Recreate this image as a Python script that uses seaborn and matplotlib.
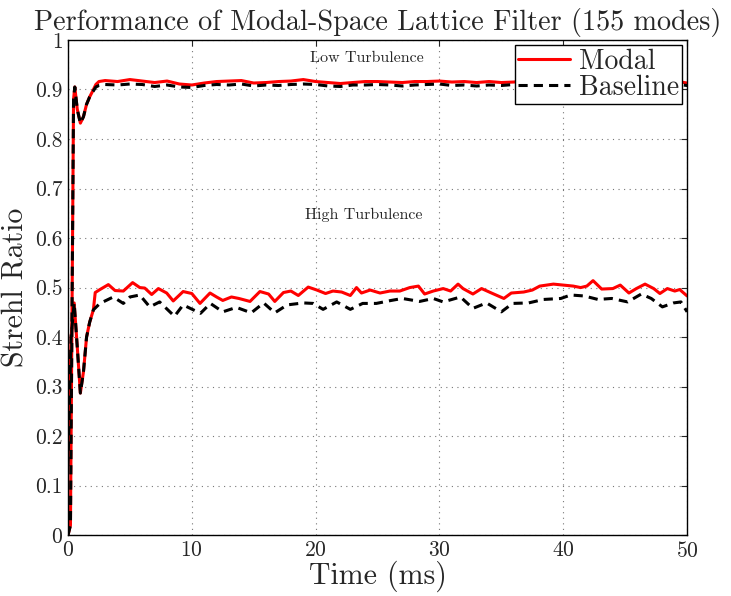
import numpy as np
import pandas as pd
import seaborn as sns
import matplotlib
matplotlib.use('Agg')
import matplotlib.pyplot as plt

# Data ------------------------------------------------------------------------
# low turbulence: transient then 1 ms steps
low_time = [0.0, 0.2, 0.45, 0.55, 0.75, 1.0, 1.25, 1.5, 1.75, 2.0, 2.25, 2.5] + list(range(3, 51))
low_modal = [0.0, 0.02, 0.88, 0.905, 0.86, 0.832, 0.845, 0.87, 0.885, 0.897, 0.91, 0.916,
             0.918, 0.916, 0.920, 0.917, 0.914, 0.917, 0.911, 0.909, 0.913, 0.916,
             0.917, 0.918, 0.913, 0.914, 0.916, 0.917, 0.920, 0.916, 0.914, 0.912,
             0.914, 0.916, 0.916, 0.915, 0.914, 0.916, 0.916, 0.917, 0.915, 0.916,
             0.914, 0.916, 0.914, 0.915, 0.917, 0.915, 0.914, 0.916, 0.915, 0.917,
             0.914, 0.916, 0.915, 0.917, 0.915, 0.916, 0.917, 0.913]
low_base = [0.0, 0.02, 0.88, 0.905, 0.86, 0.832, 0.845, 0.87, 0.885, 0.895, 0.905, 0.908,
            0.910, 0.909, 0.911, 0.910, 0.906, 0.909, 0.905, 0.904, 0.908, 0.910,
            0.909, 0.911, 0.907, 0.909, 0.908, 0.910, 0.911, 0.910, 0.907, 0.906,
            0.909, 0.909, 0.910, 0.909, 0.907, 0.909, 0.910, 0.911, 0.908, 0.909,
            0.907, 0.909, 0.908, 0.910, 0.911, 0.909, 0.908, 0.910, 0.909, 0.911,
            0.907, 0.909, 0.910, 0.911, 0.909, 0.910, 0.911, 0.908]

# high turbulence
high_modal_time = [0.0, 0.25, 0.5, 0.75, 1.0, 1.25, 1.5, 1.75, 2.05, 2.2, 2.58, 3.26, 3.8,
                   4.47, 5.22, 5.8, 6.2, 6.76, 7.3, 7.97, 8.5, 9.3, 10.0, 10.66, 11.47,
                   12.0, 12.5, 13.2, 13.8, 14.7, 15.5, 16.2, 16.7, 17.4, 18.0, 18.6, 19.4,
                   20.1, 20.8, 21.4, 22.1, 22.8, 23.3, 23.7, 24.4, 25.2, 26.0, 26.8, 27.6,
                   28.3, 28.8, 29.5, 30.3, 30.9, 31.5, 31.9, 32.7, 33.4, 34.2, 35.2, 35.8,
                   36.8, 37.5, 38.1, 39.2, 40.0, 40.8, 41.4, 41.9, 42.4, 43.1, 44.0, 44.6,
                   45.3, 45.9, 46.6, 47.3, 47.8, 48.4, 49.0, 49.4, 50.0]
high_modal = [0.14, 0.40, 0.469, 0.38, 0.287, 0.33, 0.40, 0.43, 0.455, 0.49, 0.496, 0.506,
              0.494, 0.493, 0.510, 0.500, 0.499, 0.486, 0.498, 0.489, 0.473, 0.492, 0.488,
              0.468, 0.489, 0.481, 0.474, 0.481, 0.478, 0.472, 0.492, 0.487, 0.472, 0.490,
              0.493, 0.484, 0.501, 0.495, 0.488, 0.493, 0.491, 0.484, 0.500, 0.489, 0.495,
              0.489, 0.493, 0.493, 0.500, 0.503, 0.487, 0.493, 0.498, 0.493, 0.507, 0.498,
              0.487, 0.498, 0.489, 0.478, 0.489, 0.491, 0.495, 0.503, 0.507, 0.505, 0.503,
              0.500, 0.503, 0.514, 0.497, 0.498, 0.505, 0.489, 0.498, 0.507, 0.498, 0.488,
              0.498, 0.493, 0.496, 0.483]

high_base_time = [0.0, 0.25, 0.5, 0.75, 1.0, 1.25, 1.5, 1.75, 2.05, 2.58, 3.66, 4.47, 5.0,
                  5.8, 6.6, 7.4, 8.6, 9.3, 10.7, 11.5, 12.5, 13.6, 14.8, 15.8, 16.7, 17.7,
                  19.0, 19.8, 20.6, 21.7, 22.8, 23.8, 24.9, 26.1, 27.0, 28.4, 29.5, 30.3,
                  31.7, 32.7, 33.8, 35.0, 35.9, 37.2, 38.4, 39.8, 40.6, 41.7, 42.8, 43.9,
                  45.2, 46.3, 47.1, 48.0, 48.9, 49.5, 50.0]
high_base = [0.14, 0.40, 0.469, 0.38, 0.287, 0.33, 0.40, 0.43, 0.455, 0.468, 0.481, 0.468,
             0.481, 0.485, 0.461, 0.471, 0.442, 0.465, 0.448, 0.468, 0.451, 0.460, 0.449,
             0.469, 0.449, 0.465, 0.469, 0.468, 0.456, 0.471, 0.456, 0.468, 0.468, 0.474,
             0.478, 0.472, 0.478, 0.471, 0.481, 0.458, 0.469, 0.451, 0.468, 0.469, 0.476,
             0.478, 0.485, 0.483, 0.476, 0.478, 0.471, 0.487, 0.478, 0.461, 0.469, 0.471,
             0.451]

# Plot ------------------------------------------------------------------------
sns.set_style('white')
plt.rcParams['font.family'] = 'serif'
plt.rcParams['font.serif'] = ['cmr10', 'DejaVu Serif']
plt.rcParams['mathtext.fontset'] = 'cm'
plt.rcParams['axes.formatter.use_mathtext'] = True

fig = plt.figure(figsize=(7.31, 5.96), dpi=100)
ax = fig.add_axes([0.093, 0.102, 0.847, 0.831])

lw = 2.2
dash = (3, 2)
sns.lineplot(x=high_modal_time, y=high_modal, color='red', linewidth=lw, ax=ax)
sns.lineplot(x=low_time, y=low_modal, color='red', linewidth=lw, ax=ax)
sns.lineplot(x=high_base_time, y=high_base, color='black', linewidth=lw, ax=ax)
sns.lineplot(x=low_time, y=low_base, color='black', linewidth=lw, ax=ax)
for ln in ax.lines[2:]:
    ln.set_dashes(dash)

ax.set_xlim(0, 50)
ax.set_ylim(0, 1)
ax.set_xticks(np.arange(0, 51, 10))
ax.set_yticks(np.arange(0, 1.01, 0.1))
ax.set_yticklabels(['0', '0.1', '0.2', '0.3', '0.4', '0.5', '0.6', '0.7', '0.8', '0.9', '1'])
ax.grid(True, linestyle=(0, (1, 4)), color='#777777', linewidth=0.8)
ax.tick_params(direction='in', top=True, right=True, length=4, width=0.8, labelsize=15.5,
               pad=4)
for sp in ax.spines.values():
    sp.set_color('black')
    sp.set_linewidth(1.0)

ax.set_title('Performance of Modal-Space Lattice Filter (155 modes)', fontsize=20.3, pad=7)
ax.set_xlabel('Time (ms)', fontsize=21.5, labelpad=0)
ax.set_ylabel('Strehl Ratio', fontsize=21.5, labelpad=4)

ax.text(24.1, 0.964, 'Low Turbulence', fontsize=11.5, ha='center', va='center')
ax.text(23.9, 0.646, 'High Turbulence', fontsize=11.5, ha='center', va='center')

leg = ax.legend([ax.lines[0], ax.lines[2]], ['Modal', 'Baseline'], loc='upper right',
                fontsize=20, frameon=True, fancybox=False, framealpha=1, edgecolor='black',
                borderaxespad=0.2, handlelength=1.9, handletextpad=0.3, borderpad=0.1,
                labelspacing=0.0)
leg.get_frame().set_linewidth(1.0)

plt.savefig('out.png', dpi=100)
